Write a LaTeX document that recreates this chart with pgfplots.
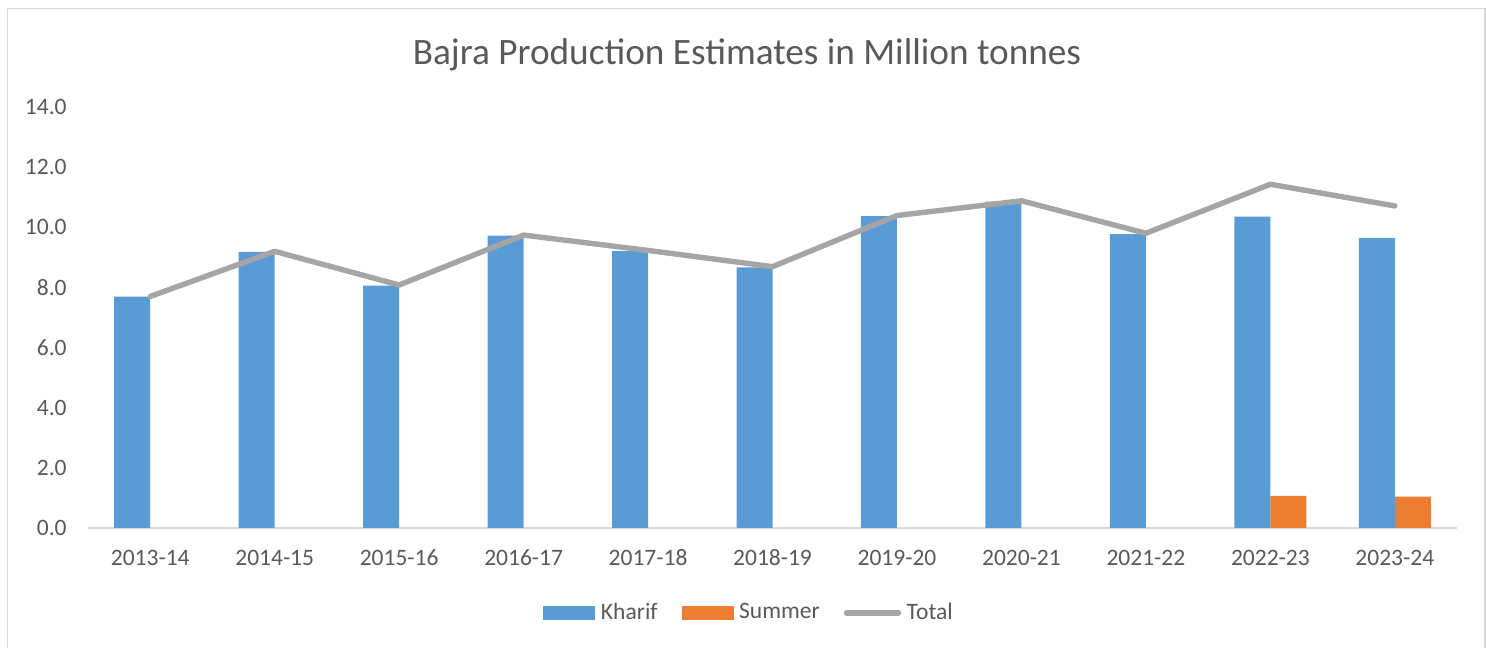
\documentclass[border=0pt]{standalone}
\usepackage{fontspec}
\setmainfont{Carlito}
\usepackage{pgfplots}
\pgfplotsset{compat=1.18}
\definecolor{kharif}{HTML}{5B9BD5}
\definecolor{summer}{HTML}{ED7D31}
\definecolor{total}{HTML}{A5A5A5}
\definecolor{txt}{HTML}{595959}
\definecolor{axl}{HTML}{D9D9D9}
\begin{document}
\begin{tikzpicture}[x=0.5bp,y=0.5bp]
\path[use as bounding box] (0,0) rectangle (1486,648);
\draw[axl, line width=0.75bp] (7.5,0) -- (7.5,639.5) -- (1485,639.5) -- (1485,0);
\node[txt, font=\fontsize{18.7}{22}\selectfont] at (747,593) {Bajra Production Estimates in Million tonnes};
\begin{axis}[
  at={(44bp,60bp)}, anchor=south west,
  scale only axis, width=684.5bp, height=210.5bp,
  xmin=-0.5, xmax=10.5, ymin=0, ymax=14,
  axis x line*=bottom, axis y line*=left,
  x axis line style={axl, line width=1bp, -},
  y axis line style={draw=none},
  ytick={0,2,...,14},
  xtick={0,...,10},
  xticklabels={2013-14,2014-15,2015-16,2016-17,2017-18,2018-19,2019-20,2020-21,2021-22,2022-23,2023-24},
  major tick length=0pt, tick style={draw=none},
  ticklabel style={font=\fontsize{11.8}{14}\selectfont, text=txt},
  /pgf/number format/assume math mode=true,
  /pgf/number format/.cd, fixed, fixed zerofill, precision=1, /pgfplots/.cd,
  xticklabel style={anchor=base, inner sep=0pt, yshift=-18.75bp},
  yticklabel style={anchor=east, inner sep=0pt, xshift=-10.5bp},
  legend style={at={(0.4836,-0.2015)}, anchor=center, draw=none, fill=none,
    legend columns=-1, font=\fontsize{11.8}{14}\selectfont, text=txt,
    /tikz/every odd column/.append style={column sep=0.8bp},
    /tikz/every even column/.append style={column sep=10bp},
    inner sep=0pt},
  legend cell align=left,
]
\addplot[ybar, bar width=18bp, bar shift=-9bp, fill=kharif, draw=none,
  legend image code/.code={\fill[kharif] (0bp,-3.5bp) rectangle (26bp,3.5bp);}]
  coordinates {(0,7.69) (1,9.18) (2,8.06) (3,9.72) (4,9.21) (5,8.67) (6,10.37) (7,10.85) (8,9.77) (9,10.35) (10,9.65)};
\addlegendentry{Kharif}
\addplot[ybar, bar width=18bp, bar shift=9bp, fill=summer, draw=none,
  legend image code/.code={\fill[summer] (0bp,-3.5bp) rectangle (26bp,3.5bp);}]
  coordinates {(9,1.07) (10,1.04)};
\addlegendentry{Summer}
\addplot[total, line width=2.7bp, line cap=round, line join=round, mark=none,
  legend image code/.code={\draw[total, line width=2.7bp, line cap=round] (1bp,0bp) -- (27bp,0bp);}]
  coordinates {(0,7.70) (1,9.20) (2,8.08) (3,9.74) (4,9.23) (5,8.69) (6,10.39) (7,10.88) (8,9.80) (9,11.43) (10,10.71)};
\addlegendentry{Total}
\end{axis}
\end{tikzpicture}
\end{document}
